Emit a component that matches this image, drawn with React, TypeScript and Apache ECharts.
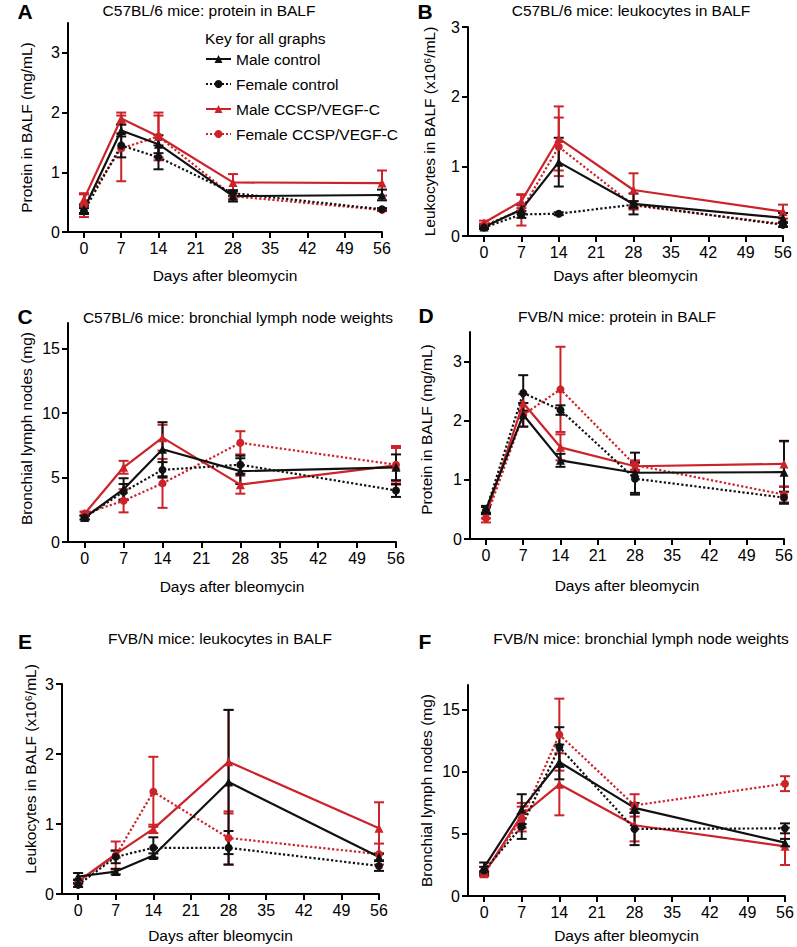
import React, { useEffect, useRef } from "react";
import * as echarts from "echarts";

const days = [0, 7, 14, 28, 56];
const dayTicks = [0, 7, 14, 21, 28, 35, 42, 49, 56];
const seriesNames = ["Male control", "Female control", "Male CCSP/VEGF-C", "Female CCSP/VEGF-C"];

// Panel A: C57BL/6 protein in BALF (mg/mL)
const aMaleCtrl = [0.38, 1.7, 1.47, 0.6, 0.62];
const aMaleCtrlErr = [0.06, 0.1, 0.15, 0.09, 0.09];
const aFemCtrl = [0.35, 1.45, 1.25, 0.65, 0.38];
const aFemCtrlErr = [0.05, 0.2, 0.2, 0.05, 0.02];
const aMaleVegf = [0.55, 1.9, 1.6, 0.83, 0.82];
const aMaleVegfErr = [0.08, 0.1, 0.35, 0.14, 0.21];
const aFemVegf = [0.45, 1.4, 1.6, 0.6, 0.37];
const aFemVegfErr = [0.2, 0.55, 0.4, 0.05, 0.02];

// Panel B: C57BL/6 leukocytes in BALF
const bMaleCtrl = [0.13, 0.38, 1.06, 0.46, 0.26];
const bMaleCtrlErr = [0.02, 0.06, 0.35, 0.15, 0.07];
const bFemCtrl = [0.12, 0.31, 0.32, 0.45, 0.16];
const bFemCtrlErr = [0.02, 0.05, 0.02, 0.05, 0.03];
const bMaleVegf = [0.19, 0.5, 1.4, 0.66, 0.35];
const bMaleVegfErr = [0.03, 0.1, 0.46, 0.24, 0.1];
const bFemVegf = [0.15, 0.37, 1.28, 0.44, 0.17];
const bFemVegfErr = [0.03, 0.22, 0.42, 0.06, 0.03];

// Panel C: C57BL/6 bronchial lymph node weights (mg)
const cMaleCtrl = [1.9, 4.1, 7.2, 5.5, 5.8];
const cMaleCtrlErr = [0.15, 0.85, 2.1, 1.0, 1.0];
const cFemCtrl = [1.9, 3.9, 5.6, 6.0, 4.0];
const cFemCtrlErr = [0.15, 0.6, 0.6, 0.7, 0.5];
const cMaleVegf = [2.2, 5.8, 8.1, 4.45, 5.95];
const cMaleVegfErr = [0.15, 0.5, 1.0, 0.7, 1.5];
const cFemVegf = [2.2, 3.2, 4.55, 7.7, 6.0];
const cFemVegfErr = [0.15, 0.9, 1.9, 0.9, 1.3];

// Panel D: FVB/N protein in BALF
const dMaleCtrl = [0.5, 2.1, 1.33, 1.12, 1.13];
const dMaleCtrlErr = [0.06, 0.2, 0.11, 0.34, 0.53];
const dFemCtrl = [0.48, 2.47, 2.18, 1.02, 0.7];
const dFemCtrlErr = [0.06, 0.3, 0.08, 0.27, 0.1];
const dMaleVegf = [0.4, 2.3, 1.55, 1.23, 1.27];
const dMaleVegfErr = [0.05, 0.15, 0.22, 0.09, 0.38];
const dFemVegf = [0.35, 2.1, 2.53, 1.25, 0.75];
const dFemVegfErr = [0.07, 0.2, 0.72, 0.08, 0.13];

// Panel E: FVB/N leukocytes in BALF
const eMaleCtrl = [0.25, 0.32, 0.55, 1.6, 0.53];
const eMaleCtrlErr = [0.05, 0.04, 0.03, 1.03, 0.05];
const eFemCtrl = [0.13, 0.53, 0.66, 0.66, 0.4];
const eFemCtrlErr = [0.03, 0.09, 0.15, 0.24, 0.07];
const eMaleVegf = [0.18, 0.57, 0.93, 1.89, 0.94];
const eMaleVegfErr = [0.03, 0.05, 0.06, 0.74, 0.37];
const eFemVegf = [0.17, 0.55, 1.46, 0.8, 0.57];
const eFemVegfErr = [0.03, 0.2, 0.5, 0.38, 0.15];

// Panel F: FVB/N bronchial lymph node weights
const fMaleCtrl = [2.3, 7.0, 10.8, 7.1, 4.3];
const fMaleCtrlErr = [0.4, 1.2, 1.4, 0.4, 0.3];
const fFemCtrl = [2.05, 5.6, 12.0, 5.4, 5.45];
const fFemCtrlErr = [0.3, 1.0, 1.6, 1.3, 0.4];
const fMaleVegf = [1.8, 6.5, 9.0, 5.7, 4.0];
const fMaleVegfErr = [0.2, 1.0, 2.5, 1.3, 1.5];
const fFemVegf = [1.8, 6.2, 13.0, 7.3, 9.05];
const fFemVegfErr = [0.2, 1.0, 2.9, 0.9, 0.6];

const panelTitles = [
  "C57BL/6 mice: protein in BALF",
  "C57BL/6 mice: leukocytes in BALF",
  "C57BL/6 mice: bronchial lymph node weights",
  "FVB/N mice: protein in BALF",
  "FVB/N mice: leukocytes in BALF",
  "FVB/N mice: bronchial lymph node weights",
];
const panelLetters = ["A", "B", "C", "D", "E", "F"];
const yNames = [
  "Protein in BALF (mg/mL)",
  "Leukocytes in BALF (x10\u2076/mL)",
  "Bronchial lymph nodes (mg)",
  "Protein in BALF (mg/mL)",
  "Leukocytes in BALF (x10\u2076/mL)",
  "Bronchial lymph nodes (mg)",
];
const xName = "Days after bleomycin";
const yTicksProtein = [0, 1, 2, 3];
const yTicksLeuko = [0, 1, 2, 3];
const yTicksLymph = [0, 5, 10, 15];

const FONT = "'Liberation Sans', Arial, Helvetica, sans-serif";
const BLACK = "#111111";
const RED = "#cc2229";

export default function App() {
  const ref = useRef<HTMLDivElement>(null);
  useEffect(() => {
    document.body.style.margin = "0";
    if (!ref.current) return;
    const chart = echarts.init(ref.current, null, { renderer: "svg" });

    const panels = [
      { data: [aMaleCtrl, aFemCtrl, aMaleVegf, aFemVegf], errs: [aMaleCtrlErr, aFemCtrlErr, aMaleVegfErr, aFemVegfErr], ymax: 3.5, ticks: yTicksProtein },
      { data: [bMaleCtrl, bFemCtrl, bMaleVegf, bFemVegf], errs: [bMaleCtrlErr, bFemCtrlErr, bMaleVegfErr, bFemVegfErr], ymax: 3, ticks: yTicksLeuko },
      { data: [cMaleCtrl, cFemCtrl, cMaleVegf, cFemVegf], errs: [cMaleCtrlErr, cFemCtrlErr, cMaleVegfErr, cFemVegfErr], ymax: 17, ticks: yTicksLymph },
      { data: [dMaleCtrl, dFemCtrl, dMaleVegf, dFemVegf], errs: [dMaleCtrlErr, dFemCtrlErr, dMaleVegfErr, dFemVegfErr], ymax: 3.5, ticks: yTicksProtein },
      { data: [eMaleCtrl, eFemCtrl, eMaleVegf, eFemVegf], errs: [eMaleCtrlErr, eFemCtrlErr, eMaleVegfErr, eFemVegfErr], ymax: 3, ticks: yTicksLeuko },
      { data: [fMaleCtrl, fFemCtrl, fMaleVegf, fFemVegf], errs: [fMaleCtrlErr, fFemCtrlErr, fMaleVegfErr, fFemVegfErr], ymax: 17, ticks: yTicksLymph },
    ];

    // layout
    const grids = [
      { left: 68, top: 23, width: 314, height: 209 },
      { left: 468, top: 27, width: 315, height: 209 },
      { left: 68, top: 323, width: 328, height: 219 },
      { left: 470, top: 332, width: 314, height: 207 },
      { left: 62, top: 684, width: 317, height: 210 },
      { left: 468, top: 685, width: 317, height: 211 },
    ];
    const xNameGaps = [35, 31, 36, 38, 33, 31];
    const yNameGaps = [34, 31, 34, 36, 24, 34];
    const yNamePad = [0, 0, 8, 12, 40, 0];
    const titlePos = [
      [209, 10], [631, 10], [238, 317], [617, 316], [220, 638], [641, 638],
    ];
    const letterPos = [
      [25, 11], [425, 11], [25, 316], [426, 315], [25, 641], [425, 641],
    ];

    const colors = [BLACK, BLACK, RED, RED];
    const dotted = [false, true, false, true];
    const symbols = ["triangle", "circle", "triangle", "circle"];
    const drawOrder = [2, 3, 0, 1];

    const series: any[] = [];
    panels.forEach((p, gi) => {
      drawOrder.forEach((si) => {
        const color = colors[si];
        series.push({
          type: "custom",
          name: "errorbar",
          xAxisIndex: gi,
          yAxisIndex: gi,
          silent: true,
          z: 2,
          encode: { x: 0, y: [1, 2] },
          data: days.map((d, i) => [d, p.data[si][i] - p.errs[si][i], p.data[si][i] + p.errs[si][i]]),
          renderItem: (params: any, api: any) => {
            const x = api.value(0);
            const top = api.coord([x, api.value(2)]);
            const bot = api.coord([x, api.value(1)]);
            const hw = 5;
            const st = { stroke: color, lineWidth: 2 };
            return {
              type: "group",
              children: [
                { type: "line", shape: { x1: top[0], y1: top[1], x2: bot[0], y2: bot[1] }, style: st },
                { type: "line", shape: { x1: top[0] - hw, y1: top[1], x2: top[0] + hw, y2: top[1] }, style: st },
                { type: "line", shape: { x1: bot[0] - hw, y1: bot[1], x2: bot[0] + hw, y2: bot[1] }, style: st },
              ],
            };
          },
        });
        series.push({
          type: "line",
          name: seriesNames[si],
          xAxisIndex: gi,
          yAxisIndex: gi,
          z: 3,
          data: days.map((d, i) => [d, p.data[si][i]]),
          symbol: symbols[si],
          symbolSize: symbols[si] === "triangle" ? 9 : 8,
          showSymbol: true,
          lineStyle: { color, width: 2.2, type: dotted[si] ? "dotted" : "solid" },
          itemStyle: { color },
        });
      });
    });

    const axisCommon = {
      axisLine: { show: true, onZero: false, lineStyle: { color: "#000", width: 2 } },
      splitLine: { show: false },
    };

    const xAxes = grids.map((_, gi) => ({
      ...axisCommon,
      type: "value",
      gridIndex: gi,
      min: -3,
      max: 56,
      axisTick: { show: true, length: 6, inside: false, lineStyle: { color: "#000", width: 2 }, customValues: dayTicks },
      axisLabel: { color: "#000", fontSize: 16, fontFamily: FONT, margin: 8, customValues: dayTicks },
      name: xName,
      nameLocation: "middle",
      nameGap: xNameGaps[gi],
      nameTextStyle: { color: "#000", fontSize: 15.5, fontFamily: FONT },
    }));

    const yAxes = grids.map((_, gi) => ({
      ...axisCommon,
      type: "value",
      gridIndex: gi,
      min: 0,
      max: panels[gi].ymax,
      axisTick: { show: true, length: 6, inside: false, lineStyle: { color: "#000", width: 2 }, customValues: panels[gi].ticks },
      axisLabel: { color: "#000", fontSize: 16, fontFamily: FONT, margin: 8, customValues: panels[gi].ticks },
      name: yNames[gi],
      nameLocation: "middle",
      nameGap: yNameGaps[gi],
      nameTextStyle: { color: "#000", fontSize: 15.5, fontFamily: FONT, padding: [0, 0, 0, yNamePad[gi]] },
    }));

    const graphics: any[] = [];
    panelTitles.forEach((t, i) => {
      graphics.push({
        type: "text",
        x: titlePos[i][0],
        y: titlePos[i][1],
        style: { text: t, fill: "#000", font: `15.5px ${FONT}`, textAlign: "center", textVerticalAlign: "middle" },
      });
      graphics.push({
        type: "text",
        x: letterPos[i][0],
        y: letterPos[i][1],
        style: { text: panelLetters[i], fill: "#000", font: `bold 21px ${FONT}`, textAlign: "center", textVerticalAlign: "middle" },
      });
    });
    graphics.push({
      type: "text",
      x: 205,
      y: 38,
      style: { text: "Key for all graphs", fill: "#000", font: `15.5px ${FONT}`, textAlign: "left", textVerticalAlign: "middle" },
    });

    chart.setOption({
      animation: false,
      backgroundColor: "#ffffff",
      textStyle: { fontFamily: FONT },
      grid: grids,
      xAxis: xAxes,
      yAxis: yAxes,
      legend: {
        data: seriesNames,
        orient: "vertical",
        left: 205,
        top: 51,
        padding: 0,
        itemWidth: 25,
        itemHeight: 10,
        itemGap: 9,
        selectedMode: false,
        textStyle: { color: "#000", fontSize: 15.5, fontFamily: FONT },
      },
      graphic: graphics,
      series,
    });

    return () => chart.dispose();
  }, []);

  return <div ref={ref} style={{ width: 797, height: 947 }} />;
}
